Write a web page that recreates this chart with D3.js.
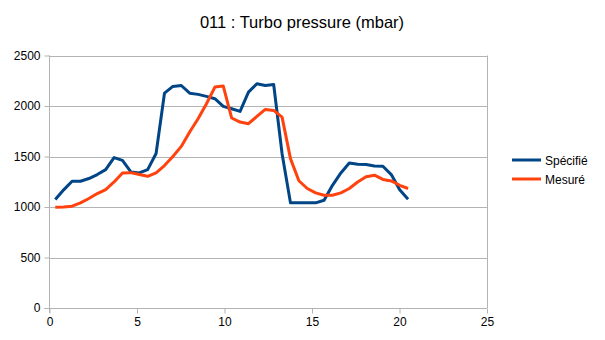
<!DOCTYPE html>
<html>
<head>
<meta charset="utf-8">
<script src="https://cdn.jsdelivr.net/npm/d3@7"></script>
<style>
  html, body { margin: 0; padding: 0; background: #fff; }
  svg { display: block; font-family: "Liberation Sans", Arial, sans-serif; }
</style>
</head>
<body>
<svg id="chart" width="605" height="340"></svg>
<script>
// Time samples (x) and the two pressure series (mbar)
const timeValues = [0.33, 0.81, 1.29, 1.77, 2.25, 2.73, 3.21, 3.69, 4.17, 4.65,
  5.13, 5.61, 6.09, 6.57, 7.05, 7.53, 8.01, 8.49, 8.97, 9.45,
  9.93, 10.41, 10.89, 11.37, 11.85, 12.33, 12.81, 13.29, 13.77, 14.25,
  14.73, 15.21, 15.69, 16.17, 16.65, 17.13, 17.61, 18.09, 18.57, 19.05,
  19.53, 20.01, 20.49];

const specifiedValues = [1074, 1170, 1255, 1255, 1282, 1321, 1370, 1489, 1462, 1347,
  1337, 1370, 1530, 2127, 2194, 2203, 2127, 2115, 2095, 2072,
  1996, 1973, 1947, 2137, 2220, 2203, 2213, 1528, 1041, 1041,
  1041, 1041, 1067, 1215, 1337, 1436, 1423, 1420, 1406, 1403,
  1321, 1170, 1077];

const measuredValues = [998, 1000, 1008, 1041, 1084, 1133, 1173, 1248, 1337, 1340,
  1321, 1304, 1337, 1410, 1500, 1600, 1742, 1874, 2022, 2187,
  2197, 1881, 1841, 1825, 1897, 1966, 1956, 1890, 1479, 1260,
  1183, 1140, 1117, 1117, 1140, 1183, 1248, 1300, 1315, 1273,
  1258, 1215, 1183];

const seriesNames = ["Spécifié", "Mesuré"];
const xTicks = [0, 5, 10, 15, 20, 25];
const yTicks = [0, 500, 1000, 1500, 2000, 2500];
const titleText = "011 : Turbo pressure (mbar)";

const colors = ["#004586", "#ff420e"];
const svg = d3.select("#chart");

const plot = { left: 49.5, right: 487, top: 55.5, bottom: 308 };

const x = d3.scaleLinear().domain([0, 25]).range([plot.left, plot.right]);
const y = d3.scaleLinear().domain([0, 2500]).range([plot.bottom, plot.top]);

// Title
svg.append("text")
  .attr("x", 302).attr("y", 28)
  .attr("text-anchor", "middle")
  .attr("font-size", "16.5px")
  .attr("fill", "#000")
  .text(titleText);

// Horizontal grid lines
svg.append("g")
  .selectAll("line")
  .data(yTicks)
  .join("line")
  .attr("x1", plot.left).attr("x2", plot.right)
  .attr("y1", d => Math.round(y(d)) + 0.5).attr("y2", d => Math.round(y(d)) + 0.5)
  .attr("stroke", "#b3b3b3").attr("stroke-width", 1);

// Right edge line at x = 25
svg.append("line")
  .attr("x1", Math.round(x(25)) + 0.5).attr("x2", Math.round(x(25)) + 0.5)
  .attr("y1", plot.top).attr("y2", plot.bottom)
  .attr("stroke", "#b3b3b3");

// Axes
const xAxis = d3.axisBottom(x).tickValues(xTicks).tickFormat(d3.format("d"))
  .tickSize(5).tickSizeOuter(0).tickPadding(4);
const yAxis = d3.axisLeft(y).tickValues(yTicks).tickFormat(d3.format("d"))
  .tickSize(5).tickSizeOuter(0).tickPadding(4);

const gx = svg.append("g")
  .attr("transform", `translate(0,${Math.round(plot.bottom) + 0.5})`)
  .call(xAxis);
const gy = svg.append("g")
  .attr("transform", `translate(${Math.round(plot.left) - 0.5},0)`)
  .call(yAxis);

[gx, gy].forEach(g => {
  g.selectAll("path").attr("stroke", "#b3b3b3");
  g.selectAll("line").attr("stroke", "#b3b3b3");
  g.selectAll("text").attr("fill", "#000")
    .attr("font-size", "12px")
    .attr("font-family", "'Liberation Sans', Arial, sans-serif");
});
gy.select(".domain").attr("d", `M0,${plot.top}V${plot.bottom + 5}`);
gx.select(".domain").attr("d", `M${plot.left - 5},0H${plot.right}`);

// Series lines
const line = d3.line()
  .x((d, i) => x(timeValues[i]))
  .y(d => y(d));

[specifiedValues, measuredValues].forEach((vals, k) => {
  svg.append("path")
    .datum(vals)
    .attr("fill", "none")
    .attr("stroke", colors[k])
    .attr("stroke-width", 3)
    .attr("stroke-linejoin", "round")
    .attr("d", line);
});

// Legend
const legend = svg.append("g");
seriesNames.forEach((name, k) => {
  const ly = 160 + k * 19;
  legend.append("line")
    .attr("x1", 512).attr("x2", 541)
    .attr("y1", ly).attr("y2", ly)
    .attr("stroke", colors[k]).attr("stroke-width", 3);
  legend.append("text")
    .attr("x", 545).attr("y", ly + 4.5)
    .attr("font-size", "12px")
    .attr("fill", "#000")
    .text(name);
});
</script>
</body>
</html>
